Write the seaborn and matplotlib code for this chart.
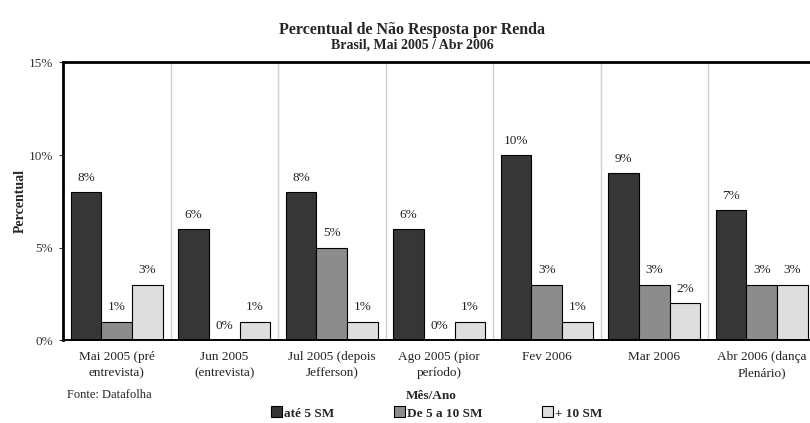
import matplotlib
matplotlib.use("Agg")
import matplotlib.pyplot as plt
from matplotlib.ticker import FixedLocator, FuncFormatter
from matplotlib.patches import Patch
import pandas as pd
import seaborn as sns

# Survey months (x categories)
months = [
    "Mai 2005 (pré\nentrevista)",
    "Jun 2005\n(entrevista)",
    "Jul 2005 (depois\nJefferson)",
    "Ago 2005 (pior\nperíodo)",
    "Fev 2006",
    "Mar 2006",
    "Abr 2006 (dança\nPlenário)",
]

# Income groups
groups = ["até 5 SM", "De 5 a 10 SM", "+ 10 SM"]

# Non-response percentage per income group
ate_5_sm = [8, 6, 8, 6, 10, 9, 7]
de_5_a_10_sm = [1, 0, 5, 0, 3, 3, 3]
mais_10_sm = [3, 1, 1, 1, 1, 2, 3]

y_ticks = [0, 5, 10, 15]

colors = ["#363636", "#8c8c8c", "#dedede"]

records = []
for g, vals in zip(groups, [ate_5_sm, de_5_a_10_sm, mais_10_sm]):
    for m, v in zip(months, vals):
        records.append({"Mês/Ano": m, "Renda": g, "Percentual": v})
df = pd.DataFrame(records)

sns.set_theme(style="white")
plt.rcParams["font.family"] = ["Liberation Serif", "DejaVu Serif"]

fig = plt.figure(figsize=(8.1, 4.23), dpi=100)
ax = fig.add_axes([63 / 810, 83 / 423, 752.5 / 810, 277.5 / 423])

sns.barplot(
    data=df, x="Mês/Ano", y="Percentual", hue="Renda",
    order=months, hue_order=groups, palette=colors,
    width=0.86, edgecolor="black", linewidth=0.8,
    saturation=1, ax=ax, legend=False,
)

for cont in ax.containers:
    ax.bar_label(cont, fmt="%g%%", padding=6, fontsize=9.5, color="#222222")

ax.set_xlim(-0.5, len(months) - 0.5)
ax.set_ylim(0, 15)
ax.set_yticks(y_ticks)
ax.yaxis.set_major_formatter(FuncFormatter(lambda v, p: f"{v:g}%"))
ax.tick_params(axis="y", labelsize=9.5, colors="#333333", length=3, width=0.8,
               left=True, pad=4)
ax.tick_params(axis="x", labelsize=9.5, colors="#222222", length=0, pad=8)
for lbl in ax.get_xticklabels():
    lbl.set_linespacing(1.45)

# Light separators between months
ax.xaxis.set_minor_locator(FixedLocator([i + 0.5 for i in range(len(months) - 1)]))
ax.grid(which="minor", axis="x", color="#cfcfcf", linewidth=1.0)
ax.tick_params(which="minor", length=0)
ax.set_axisbelow(True)

for side in ["left", "top"]:
    ax.spines[side].set_visible(True)
    ax.spines[side].set_color("black")
    ax.spines[side].set_linewidth(2.0)
ax.spines["bottom"].set_color("black")
ax.spines["bottom"].set_linewidth(1.4)
ax.spines["right"].set_visible(False)

ax.set_xlabel("")
ax.set_ylabel("Percentual", fontsize=10, fontweight="bold")
ax.yaxis.set_label_coords(-36 / 752.5, 0.5)

fig.text(412 / 810, 1 - 30 / 423, "Percentual de Não Resposta por Renda",
         ha="center", va="center", fontsize=11.5, fontweight="bold")
fig.text(412 / 810, 1 - 45 / 423, "Brasil, Mai 2005 / Abr 2006",
         ha="center", va="center", fontsize=10, fontweight="bold")
fig.text(431 / 810, 1 - 396 / 423, "Mês/Ano",
         ha="center", va="center", fontsize=9.5, fontweight="bold")
fig.text(67 / 810, 1 - 395 / 423, "Fonte: Datafolha",
         ha="left", va="center", fontsize=9, color="#222222")

handles = [Patch(facecolor=c, edgecolor="black", linewidth=0.8) for c in colors]
leg = fig.legend(
    handles, groups, loc="center", bbox_to_anchor=(437 / 810, 1 - 413 / 423),
    ncol=3, frameon=False, handlelength=0.8, handleheight=0.9,
    handletextpad=0.2, columnspacing=4.5, prop={"weight": "bold", "size": 9.5},
)

fig.savefig("out.png", dpi=100, facecolor="white")
